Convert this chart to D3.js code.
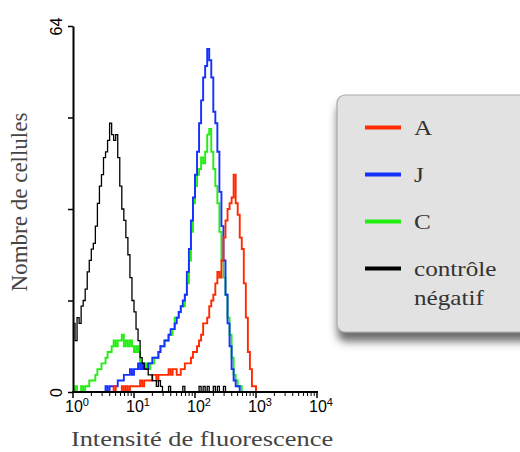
<!DOCTYPE html>
<html>
<head>
<meta charset="utf-8">
<script src="https://cdn.jsdelivr.net/npm/d3@7"></script>
<style>
  html, body { margin: 0; padding: 0; background: #ffffff; }
  svg { display: block; }
</style>
</head>
<body>
<svg id="chart" width="520" height="452"></svg>
<script>
// Flow cytometry histograms: cell counts per fluorescence channel.
// Channels are log-spaced, 30 per decade, starting at 10^0.
const binsPerDecade = 30;

const seriesNames = ["A", "J", "C", "contrôle négatif"];
const seriesColors = ["#ff2a00", "#1530ff", "#22ee11", "#000000"];

const countsA = [
  0,0,0,0,0,0,0,0,0,0, 0,0,0,0,0,0,0,0,0,0,
  1,0,0,0,1,0,1,0,1,1, 1,1,1,2,1,2,2,2,2,3,
  3,2,3,3,3,3,3,4,3,4, 4,3,3,4,4,5,5,5,6,7,
  7,8,9,10,12,12,13,15,16,17, 19,21,20,23,27,30,32,33,34,38,
  33,31,27,25,19,13,7,4,1,1, 0
];
const countsJ = [
  0,0,0,0,0,0,0,0,0,0, 0,0,0,0,0,0,1,0,1,1,
  1,1,2,2,2,3,3,3,4,3, 4,4,5,4,5,4,4,5,5,6,
  6,6,7,8,8,9,9,10,11,11, 12,13,14,15,16,17,21,25,30,34,
  38,42,47,51,55,57,60,58,55,49, 47,42,35,29,23,17,12,8,4,2,
  1,1,0
];
const countsC = [
  0,1,0,0,1,0,1,1,2,2, 2,3,4,4,5,5,6,7,7,8,
  9,8,9,9,10,8,9,8,9,8, 7,8,7,5,5,4,5,4,5,5,
  6,6,7,8,8,9,9,10,10,11, 13,13,14,15,15,17,19,23,28,33,
  36,38,39,41,40,42,45,46,42,39, 36,33,28,23,20,17,13,10,6,3,
  2,1,1,0
];
const countsNeg = [
  12,9,13,12,15,16,18,21,23,25, 26,29,33,36,38,41,42,44,47,45,
  44,45,41,36,32,30,27,24,20,16, 14,11,9,6,5,4,4,3,3,2,
  2,1,2,1,0,0,0,1,0,0, 0,0,0,0,1,0,0,0,0,0,
  0,0,1,0,1,0,1,0,0,1, 0,1,0,0,1,0,0,0,0,0
];

const yTickValues = [0, 16, 32, 48, 64];
const yTickLabels = ["0", "", "", "", "64"];
const xDecades = [1, 10, 100, 1000, 10000];
const xDecadeExponents = ["0", "1", "2", "3", "4"];

const xTitle = "Intensité de fluorescence";
const yTitle = "Nombre de cellules";

const serif = "'Liberation Serif', 'Times New Roman', serif";
const sans = "'Liberation Sans', Arial, sans-serif";

const svg = d3.select("#chart");

const x = d3.scaleLog().domain([1, 10000]).range([73, 317]);
const y = d3.scaleLinear().domain([0, 64]).range([392, 26]);

// Legend panel with drop shadow
const defs = svg.append("defs");
const shadow = defs.append("filter").attr("id", "panelShadow")
  .attr("x", "-10%").attr("y", "-10%").attr("width", "130%").attr("height", "130%");
shadow.append("feDropShadow")
  .attr("dx", 1).attr("dy", 9).attr("stdDeviation", 4)
  .attr("flood-color", "#3a3a3a").attr("flood-opacity", 0.75);

const legend = svg.append("g");
legend.append("rect")
  .attr("x", 337).attr("y", 95).attr("width", 200).attr("height", 237)
  .attr("rx", 8).attr("ry", 8)
  .attr("fill", "#e2e2e2").attr("stroke", "#a9a9a9").attr("stroke-width", 1.2)
  .attr("filter", "url(#panelShadow)");

const legendRow = d3.scaleLinear().domain([0, 3]).range([127.5, 268.5]);
seriesNames.forEach((name, i) => {
  const ly = legendRow(i);
  legend.append("line")
    .attr("x1", 365).attr("x2", 401).attr("y1", ly).attr("y2", ly)
    .attr("stroke", seriesColors[i]).attr("stroke-width", 4);
  const words = name.split(" ");
  const t = legend.append("text")
    .attr("transform", `translate(414,${ly + 7.5}) scale(1.2,1)`)
    .attr("font-family", serif)
    .attr("font-size", 21).attr("fill", "#333");
  words.forEach((w, k) => {
    t.append("tspan").attr("x", 0).attr("dy", k === 0 ? 0 : 29).text(w);
  });
});

// Histogram step lines
function histogramPoints(counts) {
  let first = counts.findIndex(v => v > 0);
  first = Math.max(0, first - 1);
  const pts = [];
  for (let i = first; i < counts.length; i++) {
    pts.push([Math.pow(10, i / binsPerDecade), counts[i]]);
  }
  pts.push([Math.pow(10, counts.length / binsPerDecade), 0]);
  return pts;
}

const line = d3.line()
  .x(d => x(d[0]))
  .y(d => y(d[1]))
  .curve(d3.curveStepAfter);

const drawOrder = [2, 1, 0, 3];
const allCounts = [countsA, countsJ, countsC, countsNeg];
const plot = svg.append("g");
drawOrder.forEach(i => {
  plot.append("path")
    .datum(histogramPoints(allCounts[i]))
    .attr("d", line)
    .attr("fill", "none")
    .attr("stroke", seriesColors[i])
    .attr("stroke-width", i === 3 ? 1.3 : 1.9)
    .attr("stroke-linejoin", "miter");
});

// Y axis
const yAxis = svg.append("g").attr("transform", "translate(73,0)")
  .call(d3.axisLeft(y).tickValues(yTickValues).tickSize(5).tickSizeOuter(0)
    .tickFormat((d, i) => yTickLabels[i]));
yAxis.select(".domain").attr("stroke-width", 2);
yAxis.selectAll(".tick line").attr("stroke-width", 1.5);
yAxis.selectAll(".tick text")
  .attr("font-family", sans)
  .attr("font-size", 16).attr("fill", "#000")
  .attr("text-anchor", "middle")
  .attr("transform", "rotate(-90)")
  .attr("x", 0).attr("y", -11).attr("dy", 0);

// X axis with log minor ticks
const minorTicks = [];
for (let e = 0; e < 4; e++) {
  for (let m = 2; m <= 9; m++) minorTicks.push(m * Math.pow(10, e));
}
const xg = svg.append("g").attr("transform", "translate(0,392)");
xg.append("line").attr("x1", 72).attr("x2", 318).attr("y1", 0).attr("y2", 0)
  .attr("stroke", "#000").attr("stroke-width", 2);
xg.selectAll("line.minor").data(minorTicks).join("line").attr("class", "minor")
  .attr("x1", d => x(d)).attr("x2", d => x(d)).attr("y1", 0).attr("y2", 4)
  .attr("stroke", "#000").attr("stroke-width", 1);
xg.selectAll("line.major").data(xDecades).join("line").attr("class", "major")
  .attr("x1", d => x(d)).attr("x2", d => x(d)).attr("y1", 0).attr("y2", 6)
  .attr("stroke", "#000").attr("stroke-width", 1.5);
const xl = xg.selectAll("text.dec").data(xDecades).join("text").attr("class", "dec")
  .attr("x", d => x(d) - 8).attr("y", 20)
  .attr("font-family", sans)
  .attr("font-size", 16).attr("fill", "#000");
xl.append("tspan").text("10");
xl.append("tspan").attr("dy", -6).attr("font-size", 11).text((d, i) => xDecadeExponents[i]);

// Axis titles
svg.append("text")
  .attr("transform", "translate(202,446) scale(1.2,1)").attr("text-anchor", "middle")
  .attr("font-family", serif)
  .attr("font-size", 22).attr("fill", "#444").text(xTitle);
svg.append("text")
  .attr("transform", "translate(27,202) rotate(-90)").attr("text-anchor", "middle")
  .attr("font-family", serif)
  .attr("font-size", 23).attr("fill", "#444").text(yTitle);
</script>
</body>
</html>
